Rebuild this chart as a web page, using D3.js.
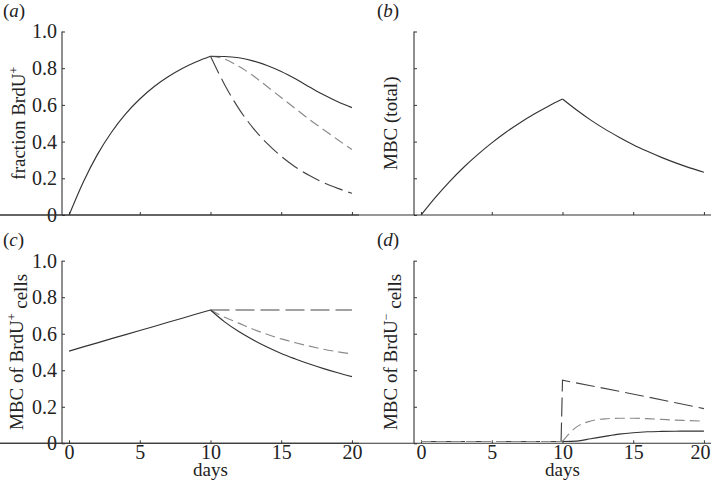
<!DOCTYPE html>
<html lang="en">
    <head>
        <meta charset="utf-8">
        <title>BrdU labelling and MBC</title>
        <script src="https://d3js.org/d3.v7.min.js"></script>
        <style type="text/css">
            body{ margin:0; background:#fff; }
            svg{ display:block; }
            text{ font-family:"Liberation Serif","Times New Roman",serif; fill:#222; }
        </style>
    </head>
    <body>
        <svg width="713" height="481"></svg>
        <script type="text/javascript">

            // time axis: labelling phase (0-10) and chase phase (10-20)
            const preDays  = [0, 1, 2, 3, 4, 5, 6, 7, 8, 9, 10];
            const postDays = [10, 11, 12, 13, 14, 15, 16, 17, 18, 19, 20];
            const xTicks = [0, 5, 10, 15, 20];
            const yTicks = [0, 0.2, 0.4, 0.6, 0.8, 1.0];

            // (a) fraction BrdU+
            const aPre       = [0, 0.179, 0.329, 0.451, 0.551, 0.632, 0.699, 0.753, 0.798, 0.835, 0.865];
            const aSolid     = [0.865, 0.864, 0.857, 0.84, 0.815, 0.782, 0.742, 0.698, 0.655, 0.617, 0.585];
            const aShortDash = [0.865, 0.85, 0.81, 0.76, 0.70, 0.64, 0.58, 0.52, 0.465, 0.41, 0.357];
            const aLongDash  = [0.865, 0.71, 0.58, 0.475, 0.39, 0.32, 0.262, 0.215, 0.176, 0.145, 0.118];

            // (b) MBC (total)
            const bPre  = [0, 0.095, 0.181, 0.259, 0.329, 0.393, 0.451, 0.503, 0.55, 0.593, 0.632];
            const bPost = [0.632, 0.572, 0.517, 0.468, 0.424, 0.383, 0.347, 0.314, 0.284, 0.257, 0.233];

            // (c) MBC of BrdU+ cells
            const cPre       = [0.505, 0.528, 0.55, 0.573, 0.595, 0.618, 0.64, 0.663, 0.685, 0.708, 0.73];
            const cSolid     = [0.73, 0.665, 0.612, 0.567, 0.527, 0.492, 0.462, 0.434, 0.409, 0.386, 0.365];
            const cShortDash = [0.73, 0.69, 0.658, 0.625, 0.597, 0.572, 0.551, 0.532, 0.515, 0.501, 0.489];
            const cLongDash  = [0.73, 0.73, 0.73, 0.73, 0.73, 0.73, 0.73, 0.73, 0.73, 0.73, 0.73];

            // (d) MBC of BrdU- cells
            const dPre       = [0.01, 0.01, 0.01, 0.01, 0.01, 0.01, 0.01, 0.01, 0.01, 0.01, 0.01];
            const dSolid     = [0.01, 0.012, 0.025, 0.038, 0.05, 0.058, 0.063, 0.065, 0.066, 0.067, 0.067];
            const dShortDash = [0.01, 0.09, 0.122, 0.134, 0.137, 0.137, 0.135, 0.131, 0.127, 0.124, 0.121];
            const dLongDays  = [9.9, 10, 12, 14, 16, 18, 20];
            const dLongDash  = [0.01, 0.345, 0.315, 0.285, 0.254, 0.222, 0.19];

            const styles = {
                solid: {stroke:"#333", dash:null},
                short: {stroke:"#8a8a8a", dash:"10,5"},
                long:  {stroke:"#444", dash:"19,6"}
            };

            const svg = d3.select("svg");

            function panel(left, top, bottom, opts) {
                const x = d3.scaleLinear().domain([-0.5, 20.5]).range([left, left + 297]);
                const y = d3.scaleLinear().domain([0, 1]).range([bottom, top]);
                const g = svg.append("g");

                const ya = g.append("g").attr("transform", `translate(${x(-0.5)},0)`)
                            .call(d3.axisLeft(y).tickValues(yTicks).tickSize(-3).tickPadding(5)
                            .tickFormat(d => opts.yLabels ? (d === 0 ? "0" : d3.format(".1f")(d)) : ""));

                const xa = g.append("g").attr("transform", `translate(0,${y(0)})`)
                            .call(d3.axisBottom(x).tickValues(xTicks).tickSize(-3).tickPadding(1)
                            .tickFormat(d => opts.xLabels ? d : ""));

                [ya, xa].forEach(a => {
                    a.attr("font-family", null).attr("font-size", null);
                    a.select(".domain").attr("stroke", "#333").attr("stroke-width", 1.1);
                    a.selectAll(".tick line").attr("stroke", "#333");
                    a.selectAll(".tick text").style("font-size", "20px").attr("fill", "#222");
                });
                ya.select(".domain").attr("d", `M0,${y(1)}V${y(0)}`);
                xa.select(".domain").attr("d", `M0,0H${x(20.5)}`);
                // keep the last day label inside the page edge
                if (opts.xLabels && left > 300) {
                    xa.selectAll(".tick text").filter(d => d === 20).attr("dx", -4);
                }

                const line = (days, vals, curve) => d3.line()
                                .x((d, i) => x(days[i]))
                                .y(d => y(d))
                                .curve(curve || d3.curveMonotoneX)(vals);

                opts.series.forEach(s => {
                    g.append("path")
                        .attr("d", line(s.days, s.vals, s.curve))
                        .attr("fill", "none")
                        .attr("stroke", styles[s.style].stroke)
                        .attr("stroke-width", 1.15)
                        .attr("stroke-dasharray", styles[s.style].dash);
                });

                // rotated y label
                const lab = g.append("text")
                    .attr("transform", `translate(${opts.labX},${(top + bottom) / 2}) rotate(-90)`)
                    .attr("text-anchor", "middle")
                    .style("font-size", "19px");
                opts.label.forEach(p => {
                    const t = lab.append("tspan").text(p.t);
                    if (p.sup) t.style("font-size", "12px").attr("dy", "-0.6em");
                    if (p.after) t.attr("dy", "0.6em");
                });

                // panel letter
                const letter = g.append("text").attr("x", opts.letX).attr("y", opts.letY).style("font-size", "19px");
                letter.append("tspan").text("(");
                letter.append("tspan").text(opts.letter).style("font-style", "italic");
                letter.append("tspan").text(")");

                if (opts.xLabels) {
                    g.append("text").attr("x", x(10)).attr("y", bottom + 33)
                        .attr("text-anchor", "middle").style("font-size", "19px").text("days");
                }
            }

            panel(62, 31.5, 215, {
                letter:"a", letX:3, letY:17, labX:25, yLabels:true, xLabels:false,
                label:[{t:"fraction BrdU"}, {t:"+", sup:true}],
                series:[
                    {days:postDays, vals:aLongDash, style:"long"},
                    {days:postDays, vals:aShortDash, style:"short"},
                    {days:preDays, vals:aPre, style:"solid"},
                    {days:postDays, vals:aSolid, style:"solid"}
                ]
            });

            panel(414, 31.5, 215, {
                letter:"b", letX:377, letY:17, labX:397, yLabels:false, xLabels:false,
                label:[{t:"MBC (total)"}],
                series:[
                    {days:preDays, vals:bPre, style:"solid"},
                    {days:postDays, vals:bPost, style:"solid"}
                ]
            });

            panel(62, 260.7, 443.3, {
                letter:"c", letX:3, letY:246, labX:23, yLabels:true, xLabels:true,
                label:[{t:"MBC of BrdU"}, {t:"+", sup:true}, {t:" cells", after:true}],
                series:[
                    {days:postDays, vals:cLongDash, style:"long", curve:d3.curveLinear},
                    {days:postDays, vals:cShortDash, style:"short"},
                    {days:preDays, vals:cPre, style:"solid", curve:d3.curveLinear},
                    {days:postDays, vals:cSolid, style:"solid"}
                ]
            });

            panel(414, 260.7, 443.3, {
                letter:"d", letX:377, letY:246, labX:397, yLabels:false, xLabels:true,
                label:[{t:"MBC of BrdU"}, {t:"\u2212", sup:true}, {t:" cells", after:true}],
                series:[
                    {days:preDays, vals:dPre, style:"long", curve:d3.curveLinear},
                    {days:dLongDays, vals:dLongDash, style:"long", curve:d3.curveLinear},
                    {days:preDays, vals:dPre, style:"short", curve:d3.curveLinear},
                    {days:postDays, vals:dShortDash, style:"short"},
                    {days:postDays, vals:dSolid, style:"solid"}
                ]
            });

        </script>
    </body>
</html>
